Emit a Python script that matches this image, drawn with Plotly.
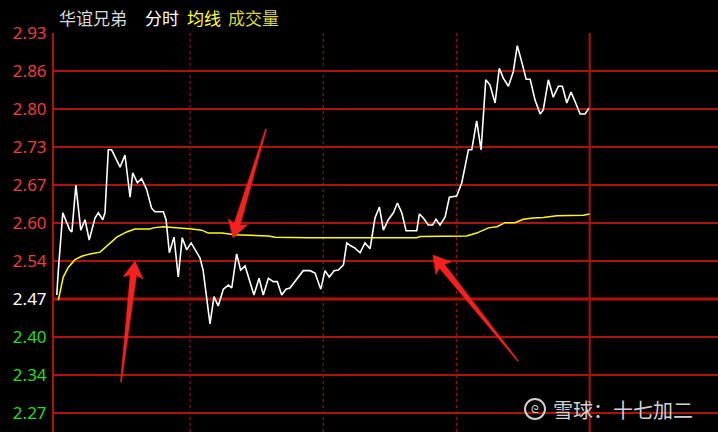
import plotly.graph_objects as go

# ---- data ----
price_minutes = [0, 0.7, 2.7, 5.9, 6.8, 8.6, 10.8, 12.7, 14.6, 17.2, 18.7, 20.7, 21.7, 23.2, 24.7,
                 28.5, 30.7, 33.0, 34.2, 36.3, 38.2, 40.5, 42.7, 44.2, 48.0, 49.2, 50.7, 52.8, 54.7,
                 56.5, 58.5, 60.5, 64.5, 65.9, 69.0, 70.8, 72.7, 75.0, 77.3, 78.8, 81.0, 82.8, 84.8,
                 88.8, 91.1, 93.0, 95.3, 97.5, 99.3, 101.3, 103.2, 105.0, 111.0, 114.0, 116.3, 118.9,
                 120.8, 122.7, 124.9, 126.8, 129.1, 130.6, 132.4, 134.3, 136.6, 138.8, 141.1, 143.3,
                 145.3, 147.1, 149.3, 151.6, 153.4, 155.4, 157.3, 162.1, 163.3, 165.1, 167.3, 169.3,
                 170.8, 172.6, 174.9, 176.8, 180.1, 182.4, 185.4, 186.9, 189.1, 191.1, 193.2, 195.1,
                 197.4, 199.3, 201.1, 203.4, 205.6, 207.4, 209.4, 211.4, 213.2, 215.4, 217.7, 219.1,
                 221.4, 223.6, 225.9, 227.7, 229.7, 231.6, 233.7, 235.7, 237.9, 239.7]
price_values = [2.477, 2.520, 2.619, 2.589, 2.586, 2.667, 2.589, 2.607, 2.572, 2.610, 2.619, 2.607,
                2.619, 2.728, 2.728, 2.698, 2.719, 2.646, 2.688, 2.671, 2.678, 2.659, 2.627, 2.621,
                2.621, 2.607, 2.550, 2.577, 2.508, 2.576, 2.555, 2.567, 2.541, 2.520, 2.427, 2.474,
                2.458, 2.487, 2.494, 2.489, 2.548, 2.520, 2.527, 2.477, 2.506, 2.477, 2.506, 2.500,
                2.500, 2.477, 2.487, 2.489, 2.519, 2.519, 2.515, 2.487, 2.519, 2.508, 2.519, 2.520,
                2.529, 2.567, 2.562, 2.558, 2.550, 2.567, 2.557, 2.610, 2.629, 2.589, 2.607, 2.619,
                2.636, 2.619, 2.588, 2.588, 2.617, 2.610, 2.598, 2.598, 2.608, 2.598, 2.612, 2.646,
                2.648, 2.671, 2.728, 2.728, 2.778, 2.728, 2.849, 2.840, 2.809, 2.869, 2.852, 2.838,
                2.863, 2.908, 2.880, 2.850, 2.850, 2.814, 2.790, 2.797, 2.849, 2.819, 2.838, 2.838,
                2.809, 2.828, 2.809, 2.790, 2.790, 2.800]

avg_minutes = [0.7, 2.9, 5.2, 8.2, 11.2, 15.0, 19.5, 23.2, 27.0, 31.5, 35.2, 42.0, 43.5, 48.0, 55.5,
               60.8, 65.3, 68.2, 74.3, 80.3, 95.3, 98.3, 113.3, 132.1, 162.1, 163.6, 180.1, 184.6,
               189.1, 192.1, 194.4, 198.2, 201.9, 206.4, 210.1, 214.6, 219.1, 225.2, 237.2, 239.9]
avg_values = [2.468, 2.508, 2.525, 2.538, 2.544, 2.548, 2.551, 2.563, 2.577, 2.586, 2.591, 2.591,
              2.593, 2.595, 2.593, 2.591, 2.589, 2.584, 2.584, 2.581, 2.579, 2.577, 2.576, 2.576,
              2.576, 2.578, 2.578, 2.579, 2.584, 2.589, 2.593, 2.595, 2.602, 2.602, 2.608, 2.610,
              2.611, 2.614, 2.615, 2.617]

prev_close = 2.47
price_step = 0.0657
level_steps = [7, 6, 5, 4, 3, 2, 1, 0, -1, -2, -3]
tick_labels = ["2.93", "2.86", "2.80", "2.73", "2.67", "2.60", "2.54", "2.47", "2.40", "2.34", "2.27"]
session_lines = [60, 120, 180]
close_minute = 240

title_parts = [("华谊兄弟", "#d9d9d9"), ("分时", "#ffffff"), ("均线", "#ffff33"), ("成交量", "#d6d63a")]
watermark = "雪球：十七加二"

# ---- figure ----
W, H = 718, 432
ML, MT = 54, 33
CJK = "Noto Sans CJK SC, Noto Sans, sans-serif"

tick_vals = [prev_close + k * price_step for k in level_steps]
tick_text = []
for k, lab in zip(level_steps, tick_labels):
    col = "#ee3b3b" if k > 0 else ("#ffffff" if k == 0 else "#22dd22")
    tick_text.append(f"<span style='color:{col}'>{lab}</span>")

fig = go.Figure()
fig.add_trace(go.Scatter(x=avg_minutes, y=avg_values, mode="lines",
                         line=dict(color="#ffff00", width=1.5), hoverinfo="skip"))
fig.add_trace(go.Scatter(x=price_minutes, y=price_values, mode="lines",
                         line=dict(color="#ffffff", width=1.6), hoverinfo="skip"))

shapes = []
grid_red = "#b01010"
# session separators
for m in session_lines:
    shapes.append(dict(type="line", xref="x", yref="paper", x0=m, x1=m, y0=0, y1=1,
                       line=dict(color="#9a0d0d", width=1.2, dash="dot"), layer="below"))
shapes.append(dict(type="line", xref="x", yref="paper", x0=close_minute, x1=close_minute, y0=0, y1=1,
                   line=dict(color=grid_red, width=2), layer="below"))
# prev close line, emphasised
shapes.append(dict(type="line", xref="paper", yref="y", x0=0, x1=1, y0=prev_close, y1=prev_close,
                   line=dict(color="#c01010", width=3), layer="below"))


def to_paper(px, py):
    return ((px - ML) / (W - ML), (H - py) / (H - MT))


def arrow_path(tail, tip, head_len=17, head_w=10, neck_w=3.2, tail_w=0.5):
    tx, ty = tail
    hx, hy = tip
    dx, dy = hx - tx, hy - ty
    d = (dx * dx + dy * dy) ** 0.5
    ux, uy = dx / d, dy / d
    nx, ny = -uy, ux
    neck = (hx - ux * head_len * 0.85, hy - uy * head_len * 0.85)
    wing = (hx - ux * head_len, hy - uy * head_len)
    pts = [
        (tx + nx * tail_w, ty + ny * tail_w),
        (neck[0] + nx * neck_w, neck[1] + ny * neck_w),
        (wing[0] + nx * head_w, wing[1] + ny * head_w),
        (hx, hy),
        (wing[0] - nx * head_w, wing[1] - ny * head_w),
        (neck[0] - nx * neck_w, neck[1] - ny * neck_w),
        (tx - nx * tail_w, ty - ny * tail_w),
    ]
    pp = [to_paper(x, y) for x, y in pts]
    return "M " + " L ".join(f"{x:.5f},{y:.5f}" for x, y in pp) + " Z"


for tail, tip in [((121, 382), (135, 261)), ((266, 129), (233, 238)), ((518, 361), (433, 255))]:
    shapes.append(dict(type="path", xref="paper", yref="paper", path=arrow_path(tail, tip),
                       fillcolor="#f52020", line=dict(color="#f52020", width=0.5)))

# watermark logo circle
cx, cy = to_paper(535, 409)
r_x, r_y = 10 / (W - ML), 10 / (H - MT)
shapes.append(dict(type="circle", xref="paper", yref="paper", x0=cx - r_x, x1=cx + r_x,
                   y0=cy - r_y, y1=cy + r_y, line=dict(color="#cfcfcf", width=2)))

annotations = []
xpos = [57, 143, 185, 226]
for (txt, col), x0 in zip(title_parts, xpos):
    annotations.append(dict(text=txt, x=(x0 - ML) / (W - ML), y=(H - 17) / (H - MT),
                            xref="paper", yref="paper", xanchor="left", yanchor="middle",
                            showarrow=False, font=dict(family=CJK, size=17, color=col)))
wx, wy = to_paper(551, 409)
annotations.append(dict(text=watermark, x=wx, y=wy, xref="paper", yref="paper",
                        xanchor="left", yanchor="middle", showarrow=False,
                        font=dict(family=CJK, size=20, color="#d0d0d0")))
lx, ly = to_paper(535, 409)
annotations.append(dict(text="ᘓ", x=lx, y=ly, xref="paper", yref="paper",
                        xanchor="center", yanchor="middle", showarrow=False,
                        font=dict(family="DejaVu Sans", size=11, color="#d0d0d0")))

fig.update_layout(
    width=W, height=H,
    margin=dict(l=ML, r=0, t=MT, b=0, pad=0),
    paper_bgcolor="#000000", plot_bgcolor="#000000",
    showlegend=False,
    shapes=shapes, annotations=annotations,
    xaxis=dict(range=[-1.26, 297.8], showgrid=False, zeroline=False, showticklabels=False,
               showline=False, fixedrange=True),
    yaxis=dict(range=[2.24, 2.93], tickvals=tick_vals, ticktext=tick_text,
               showgrid=True, gridcolor=grid_red, gridwidth=2, zeroline=False,
               showline=True, linecolor=grid_red, linewidth=2, ticks="outside", ticklen=2,
               tickcolor="rgba(0,0,0,0)",
               tickfont=dict(family="Noto Sans, sans-serif", size=17), fixedrange=True),
)

fig.write_html(
    "out.html",
    config={"displayModeBar": False},
    post_script="document.body.style.margin='0';document.body.style.overflow='hidden';"
                "document.body.style.background='#000';",
)
